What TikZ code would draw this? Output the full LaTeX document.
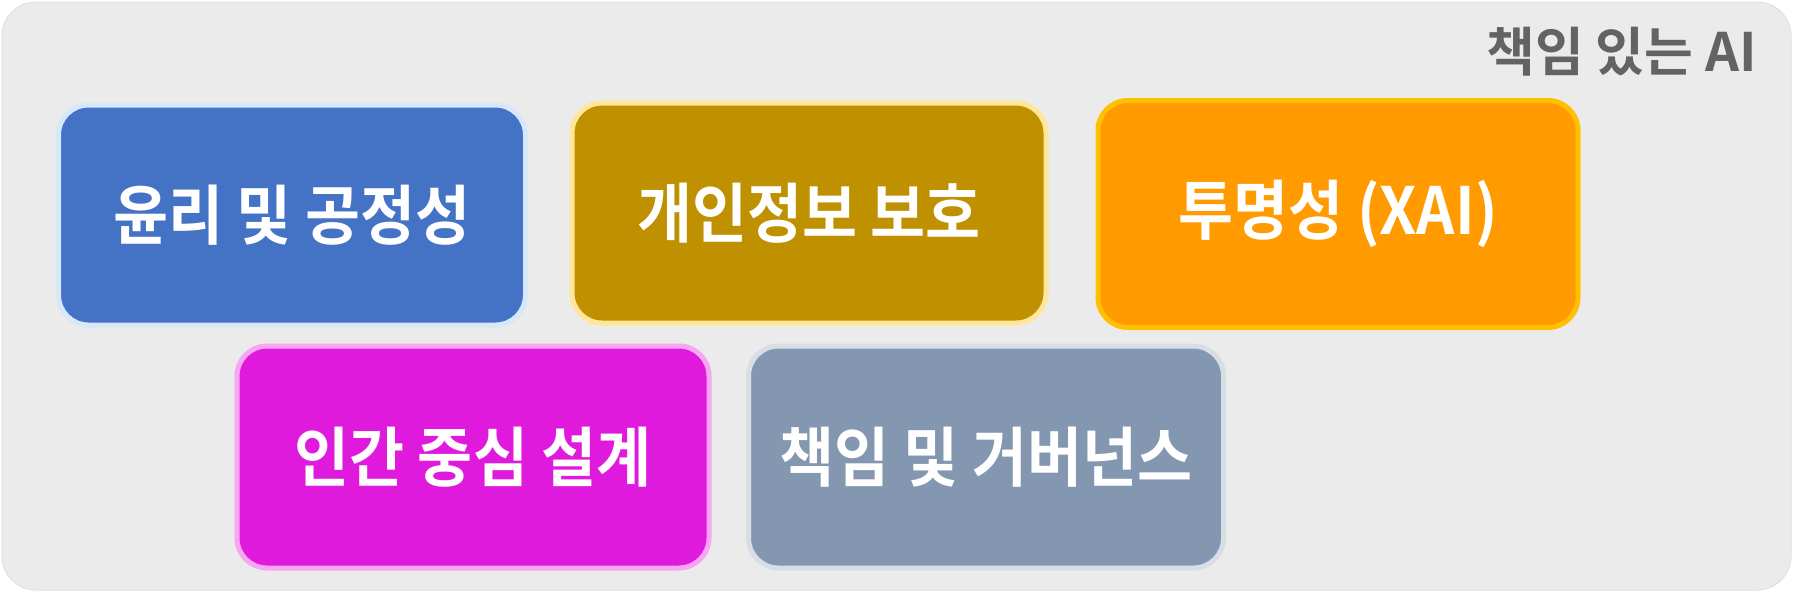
\documentclass[tikz,border=0pt]{standalone}
\usepackage{fontspec}
\newfontfamily\krbold[FakeStretch=0.92]{Noto Sans CJK KR Bold}
\newfontfamily\krtitle{Noto Sans CJK KR Bold}
\definecolor{bgc}{HTML}{EBEBEB}
\definecolor{bgline}{HTML}{E0E0E0}
\definecolor{titlec}{HTML}{636363}
\definecolor{bluef}{HTML}{4472C4}
\definecolor{blued}{HTML}{D6E8FA}
\definecolor{goldf}{HTML}{BF9000}
\definecolor{goldd}{HTML}{FFE699}
\definecolor{orangef}{HTML}{FF9A00}
\definecolor{oranged}{HTML}{FFC000}
\definecolor{magf}{HTML}{E01ADC}
\definecolor{magd}{HTML}{F6A6F2}
\definecolor{grayf}{HTML}{8497B0}
\definecolor{grayd}{HTML}{D8DEE6}
\begin{document}
\begin{tikzpicture}[x=1pt,y=-1pt,
  card/.style={rounded corners=30pt, line width=5pt, minimum width=#1, minimum height=220pt,
    text=white, font=\krbold\fontsize{65}{70}\selectfont, inner sep=0pt},
  card/.default=470pt]
\useasboundingbox (0,0) rectangle (1793,592);
\fill[bgc, draw=bgline, line width=1pt, rounded corners=34pt] (2,2) rectangle (1791,590);
\node[anchor=east, text=titlec, font=\krtitle\fontsize{53}{60}\selectfont, inner sep=0pt] (title) at (1757,52) {책임 있는 AI};
\node[card=467pt, fill=bluef, draw=blued] (n1) at (292,215) {윤리 및 공정성};
\node[card=474pt, fill=goldf, draw=goldd] (n2) at (809,213) {개인정보 보호};
\node[card=480pt, minimum height=227pt, fill=orangef, draw=oranged] (n3) at (1338,214) {투명성 (XAI)};
\node[card=472pt, minimum height=222pt, fill=magf, draw=magd] (n4) at (473,457) {인간 중심 설계};
\node[card=475pt, minimum height=222pt, fill=grayf, draw=grayd] (n5) at (986,457) {책임 및 거버넌스};
\end{tikzpicture}
\end{document}
